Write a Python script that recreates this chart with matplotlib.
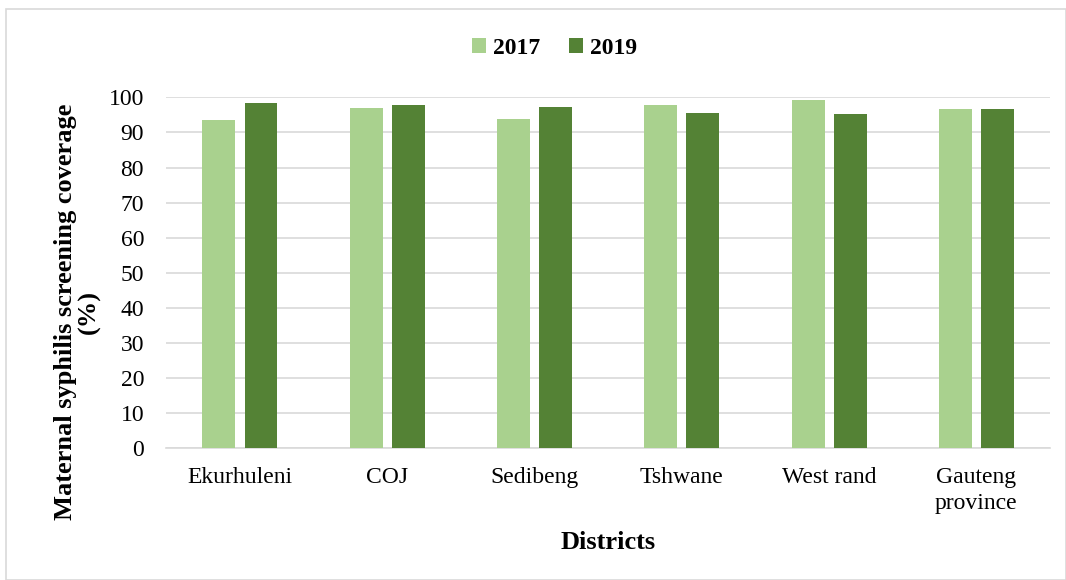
import matplotlib.pyplot as plt
import numpy as np

plt.rcParams["font.family"] = ["Liberation Serif", "DejaVu Serif"]

districts = ["Ekurhuleni", "COJ", "Sedibeng", "Tshwane", "West rand", "Gauteng\nprovince"]
cov_2017 = [93.6, 97.1, 93.9, 97.7, 99.3, 96.7]
cov_2019 = [98.3, 97.9, 97.3, 95.5, 95.4, 96.8]

fig = plt.figure(figsize=(10.66, 5.8), dpi=100)
ax = fig.add_axes([0.156, 0.228, 0.829, 0.604])

x = np.arange(len(districts))
w = 0.224
ax.bar(x - 0.143, cov_2017, w, color="#A9D18E", label="2017", zorder=3)
ax.bar(x + 0.143, cov_2019, w, color="#548235", label="2019", zorder=3)

ax.set_xlim(-0.5, len(districts) - 0.5)
ax.set_ylim(0, 100)
ax.set_yticks(np.arange(0, 101, 10))
ax.set_xticks(x)
ax.set_xticklabels(districts, linespacing=1.3)
ax.tick_params(axis="both", length=0, labelsize=17, colors="black")
ax.tick_params(axis="y", pad=16)
ax.tick_params(axis="x", pad=14)
ax.grid(axis="y", color="#D9D9D9", linewidth=1.2, zorder=0)
for s in ["top", "right", "left"]:
    ax.spines[s].set_visible(False)
ax.spines["bottom"].set_color("#D9D9D9")
ax.spines["bottom"].set_linewidth(1.2)

ax.set_xlabel("Districts", fontsize=19, fontweight="bold", labelpad=12)
ax.set_ylabel("Maternal syphilis screening coverage\n(%)", fontsize=19,
              fontweight="bold", linespacing=1.0)
ax.yaxis.set_label_coords(-0.074, 0.388)

fig.legend(loc="center", bbox_to_anchor=(0.52, 0.917), ncol=2, frameon=False,
           prop={"size": 17, "weight": "bold"}, handlelength=0.6,
           handleheight=0.6, handletextpad=0.3, columnspacing=1.2)

fig.patches.append(plt.Rectangle((0.006, 0.0), 0.994, 0.985, transform=fig.transFigure,
                                 fill=False, edgecolor="#D9D9D9", linewidth=1.2))

fig.savefig("out.png", dpi=100)
